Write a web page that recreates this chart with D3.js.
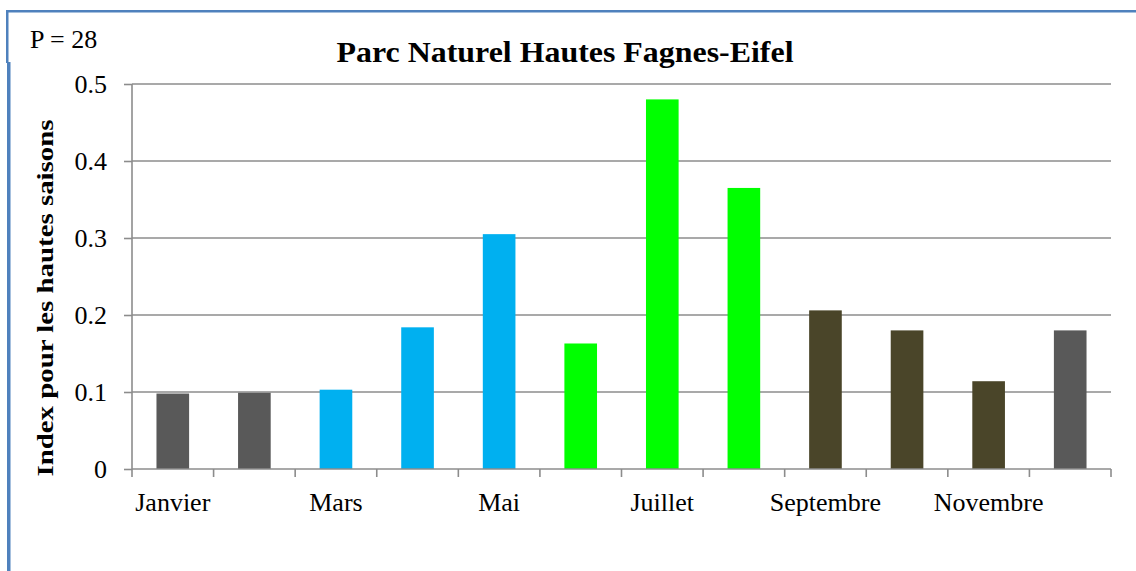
<!DOCTYPE html>
<html>
<head>
<meta charset="utf-8">
<script src="https://cdn.jsdelivr.net/npm/d3@7"></script>
<style>
  html, body { margin: 0; padding: 0; background: #fff; }
  svg { display: block; }
  text { font-family: "Liberation Serif", "DejaVu Serif", serif; fill: #000; }
</style>
</head>
<body>
<svg id="chart" width="1136" height="571"></svg>
<script>
// ——— data ———
const months = ["Janvier", "Février", "Mars", "Avril", "Mai", "Juin",
                "Juillet", "Août", "Septembre", "Octobre", "Novembre", "Décembre"];
const values = [0.098, 0.099, 0.103, 0.184, 0.305, 0.163,
                0.480, 0.365, 0.206, 0.180, 0.114, 0.180];
const seasons = ["hiver", "hiver", "printemps", "printemps", "printemps", "ete",
                 "ete", "ete", "automne", "automne", "automne", "hiver"];
const yTicks = [0, 0.1, 0.2, 0.3, 0.4, 0.5];
const shownLabels = ["Janvier", "Mars", "Mai", "Juillet", "Septembre", "Novembre"];

const colors = { hiver: "#595959", printemps: "#00b0f0", ete: "#00ff00", automne: "#4a4529" };

// ——— layout ———
const svg = d3.select("#chart");
const margin = { top: 84, right: 25, bottom: 102, left: 132 };
const width = 1136, height = 571;
const inner_width = width - margin.left - margin.right;
const inner_height = height - margin.top - margin.bottom;

// frame lines (blue border of the original text box)
svg.append("rect").attr("x", 6).attr("y", 10).attr("width", 1130).attr("height", 2.5).attr("fill", "#4f81bd");
svg.append("rect").attr("x", 6).attr("y", 10).attr("width", 2.5).attr("height", 53).attr("fill", "#4f81bd");
svg.append("rect").attr("x", 7).attr("y", 62).attr("width", 3.5).attr("height", 509).attr("fill", "#4f81bd");

const g = svg.append("g").attr("transform", `translate(${margin.left},${margin.top})`);

// scales
const xCat = d3.scaleBand().domain(months).range([0, inner_width]).padding(0);
const x = d3.scaleBand().domain(months).range([0, inner_width]).paddingInner(0.6).paddingOuter(0.3);
const y = d3.scaleLinear().domain([0, 0.5]).range([inner_height, 0]);

// gridlines
g.append("g")
  .selectAll("line")
  .data(yTicks.filter(d => d > 0))
  .join("line")
    .attr("x1", 0).attr("x2", inner_width)
    .attr("y1", d => y(d)).attr("y2", d => y(d))
    .attr("stroke", "#8c8c8c").attr("stroke-width", 1.6);

// bars
g.append("g")
  .selectAll("rect")
  .data(months)
  .join("rect")
    .attr("x", (d) => x(d))
    .attr("y", (d, i) => y(values[i]))
    .attr("width", x.bandwidth())
    .attr("height", (d, i) => y(0) - y(values[i]))
    .attr("fill", (d, i) => colors[seasons[i]]);

// y axis
const yAxis = g.append("g")
  .call(d3.axisLeft(y).tickValues(yTicks).tickSize(8).tickPadding(17)
    .tickFormat(d => d === 0 ? "0" : d.toFixed(1)));
yAxis.select(".domain").attr("stroke", "#8c8c8c").attr("stroke-width", 1.6).attr("d", `M0,${inner_height}V0`);
yAxis.selectAll(".tick line").attr("stroke", "#8c8c8c").attr("stroke-width", 1.6);
yAxis.selectAll(".tick text")
  .style("font-family", "Liberation Serif").style("font-size", "26px").attr("fill", "#000");

// x axis: ticks at category boundaries, labels every other month
const xAxis = g.append("g").attr("transform", `translate(0,${inner_height})`);
xAxis.append("line")
  .attr("x1", 0).attr("x2", inner_width)
  .attr("stroke", "#8c8c8c").attr("stroke-width", 1.6);
xAxis.selectAll("line.tk")
  .data(months.map(m => xCat(m)).concat([inner_width]))
  .join("line").attr("class", "tk")
    .attr("x1", d => d).attr("x2", d => d)
    .attr("y1", 0).attr("y2", 8)
    .attr("stroke", "#8c8c8c").attr("stroke-width", 1.6);
xAxis.selectAll("text")
  .data(shownLabels)
  .join("text")
    .attr("x", d => xCat(d) + xCat.bandwidth() / 2)
    .attr("y", 42)
    .attr("text-anchor", "middle")
    .style("font-size", "26px")
    .text(d => d);

// title
svg.append("text")
  .attr("x", 565).attr("y", 62)
  .attr("text-anchor", "middle")
  .attr("textLength", 457).attr("lengthAdjust", "spacingAndGlyphs")
  .style("font-size", "30px").style("font-weight", "bold")
  .text("Parc Naturel Hautes Fagnes-Eifel");

// P label
svg.append("text")
  .attr("x", 30).attr("y", 48)
  .style("font-size", "26px")
  .text("P = 28");

// y axis title
svg.append("text")
  .attr("transform", "translate(53,298) rotate(-90)")
  .attr("text-anchor", "middle")
  .attr("textLength", 357).attr("lengthAdjust", "spacingAndGlyphs")
  .style("font-size", "24px").style("font-weight", "bold")
  .text("Index pour les hautes saisons");
</script>
</body>
</html>
